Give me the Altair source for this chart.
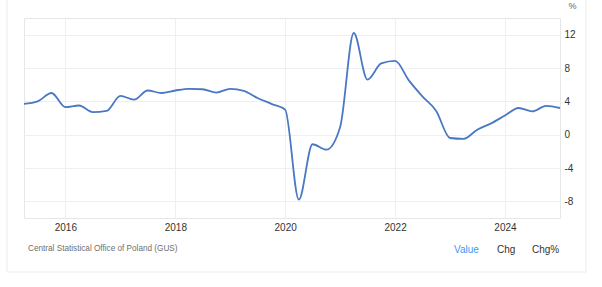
import altair as alt
import pandas as pd

quarters = [
    "2015-04-01", "2015-07-01", "2015-10-01",
    "2016-01-01", "2016-04-01", "2016-07-01", "2016-10-01",
    "2017-01-01", "2017-04-01", "2017-07-01", "2017-10-01",
    "2018-01-01", "2018-04-01", "2018-07-01", "2018-10-01",
    "2019-01-01", "2019-04-01", "2019-07-01", "2019-10-01",
    "2020-01-01", "2020-04-01", "2020-07-01", "2020-10-01",
    "2021-01-01", "2021-04-01", "2021-07-01", "2021-10-01",
    "2022-01-01", "2022-04-01", "2022-07-01", "2022-10-01",
    "2023-01-01", "2023-04-01", "2023-07-01", "2023-10-01",
    "2024-01-01", "2024-04-01", "2024-07-01", "2024-10-01",
    "2025-01-01",
]
growth = [
    3.7, 4.0, 5.0,
    3.3, 3.5, 2.7, 2.85,
    4.65, 4.2, 5.3, 5.0,
    5.3, 5.5, 5.45, 5.05,
    5.5, 5.25, 4.4, 3.7,
    3.0, -7.8, -1.15, -1.8,
    0.95, 12.2, 6.6, 8.55,
    8.85, 6.55, 4.6, 2.85,
    -0.4, -0.5, 0.6, 1.35,
    2.3, 3.2, 2.8, 3.45,
    3.2,
]
year_ticks = ["2016-01-01", "2018-01-01", "2020-01-01", "2022-01-01", "2024-01-01"]
y_ticks = [-8, -4, 0, 4, 8, 12]
source_text = ["Central Statistical Office of Poland (GUS)"]
buttons = ["Value", "Chg", "Chg%"]

FONT = "Liberation Sans"

df = pd.DataFrame({"date": pd.to_datetime(quarters), "value": growth})

x_enc = alt.X(
    "date:T",
    scale=alt.Scale(domain=[pd.Timestamp("2015-04-01").isoformat(), pd.Timestamp("2025-01-01").isoformat()], nice=False),
    axis=alt.Axis(
        values=[pd.Timestamp(t).isoformat() for t in year_ticks],
        format="%Y", title=None, ticks=False, domain=False,
        labelFont=FONT, labelFontSize=10, labelColor="#333333", labelPadding=4,
        grid=True, gridColor="#efefef",
    ),
)
y_enc = alt.Y(
    "value:Q",
    scale=alt.Scale(domain=[-10, 14], nice=False, zero=False),
    axis=alt.Axis(
        orient="right", values=y_ticks, title="%", titleAngle=0,
        titleX=8, titleY=-13, titleAlign="left", titleBaseline="middle",
        titleFont=FONT, titleFontSize=9, titleFontWeight="normal", titleColor="#666666",
        ticks=False, domain=False, labelAlign="left", labelPadding=4,
        labelExpr="'' + datum.value",
        labelFont=FONT, labelFontSize=10, labelColor="#333333",
        grid=True, gridColor="#efefef",
    ),
)

line = alt.Chart(df).mark_line(
    interpolate="monotone", color="#4a78c2", strokeWidth=1.8
).encode(x=x_enc, y=y_enc)

card = alt.Chart(pd.DataFrame({"a": [0]})).mark_rect(
    fill=None, stroke="#ececec", strokeWidth=1
).encode(x=alt.value(-17), x2=alt.value(562), y=alt.value(-40), y2=alt.value(254))

src = alt.Chart(pd.DataFrame({"t": source_text})).mark_text(
    align="left", baseline="middle", font=FONT, fontSize=8.2, color="#6f6f6f"
).encode(x=alt.value(4), y=alt.value(231), text="t:N")

btn_df = pd.DataFrame({"t": buttons, "px": [430, 473, 508], "c": ["#3d98f5", "#333333", "#333333"]})
btns = alt.Chart(btn_df).mark_text(
    align="left", baseline="middle", font=FONT, fontSize=10
).encode(x=alt.X("px:Q", scale=None), y=alt.value(231.5), text="t:N",
         color=alt.Color("c:N", scale=None))

chart = alt.layer(card, line, src, btns).properties(
    width=536, height=200,
    autosize=alt.AutoSizeParams(type="none"),
    padding={"left": 24, "top": 18, "right": 42, "bottom": 69},
    background="white",
).configure_view(stroke="#e6e6e6", strokeWidth=1)

chart.save("out.html", embed_options={"renderer": "svg", "actions": False})
